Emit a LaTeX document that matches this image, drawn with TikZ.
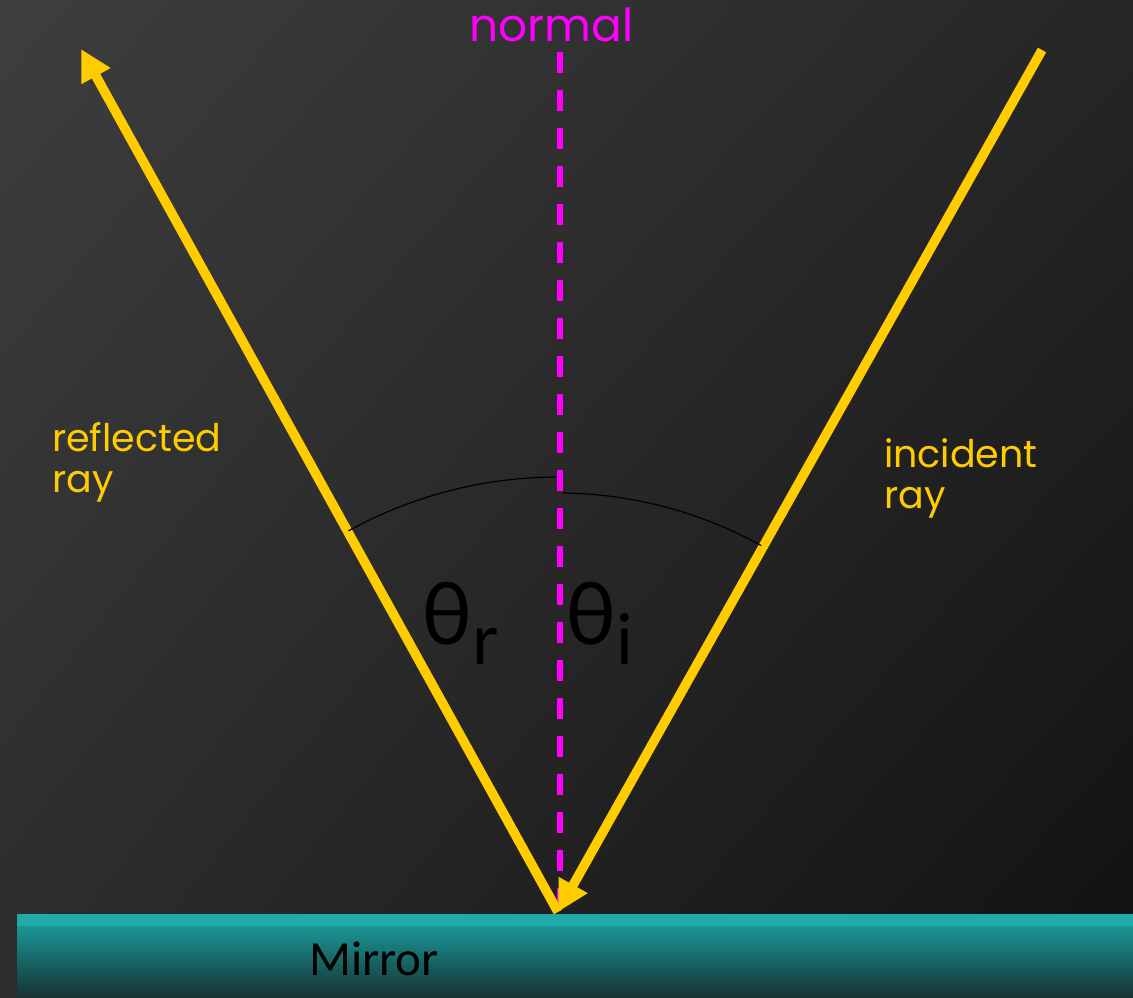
\documentclass[tikz,border=0pt]{standalone}
\usepackage{fontspec}
\setmainfont{Poppins}
\newfontfamily\thfont{Lato}
\newfontfamily\mirfont{Carlito}
\usetikzlibrary{arrows.meta,shadings}
\definecolor{rayyellow}{HTML}{FFCC00}
\definecolor{normmag}{HTML}{FF00FF}
\definecolor{mirtop}{HTML}{22AAAA}
\definecolor{mirmid}{HTML}{1A9696}
\definecolor{mirmid2}{HTML}{197C7C}
\definecolor{mirbot}{HTML}{173232}
\definecolor{bgul}{HTML}{3E3E3E}
\definecolor{bgur}{HTML}{262626}
\definecolor{bgll}{HTML}{2C2C2C}
\definecolor{bglr}{HTML}{111111}
\tikzset{
  ray/.style={draw=rayyellow, line width=9.5pt, -{Triangle[length=31pt,width=31pt]}},
  normalline/.style={draw=normmag, line width=5.5pt, dash pattern=on 21pt off 17pt},
  anglearc/.style={draw=black, line width=1.2pt},
  raylabel/.style={font=\fontsize{38}{41}\selectfont, text=rayyellow, inner sep=0pt, align=left},
  thetalabel/.style={font=\thfont\fontsize{86}{86}\selectfont, text=black, inner sep=0pt, anchor=base west},
}
\begin{document}
\begin{tikzpicture}[x=1pt,y=1pt]
\useasboundingbox (0,0) rectangle (1133,997);
% background
\shade[upper left=bgul, upper right=bgur, lower left=bgll, lower right=bglr] (0,0) rectangle (1133,997);
% key points
\coordinate (O) at (558,85);
\coordinate (Rtip) at (81,948);
\coordinate (Istart) at (1042,947);
\coordinate (Ntop) at (560,945);
\coordinate (Nbot) at (560,88);
% normal
\draw[normalline] (Ntop) -- (Nbot);
% rays
\draw[ray] (O) -- (Rtip);
\draw[ray] (Istart) -- (O);
% angle arcs
\draw[anglearc] (O) ++(118.8:435) arc[start angle=118.8, end angle=90.2, radius=435];
\draw[anglearc] (O) ++(89.3:419) arc[start angle=89.3, end angle=61.0, radius=419];
% mirror
\shade[top color=mirmid, middle color=mirmid2, bottom color=mirbot] (17,0) rectangle (1133,71);
\fill[mirtop] (17,71) rectangle (1133,83);
\node[font=\mirfont\fontsize{49}{49}\selectfont, text=black, inner sep=0pt, anchor=base west] (mirror) at (309,22) {Mirror};
% labels
\node[font=\fontsize{45.5}{45.5}\selectfont, text=normmag, inner sep=0pt, anchor=base west] (normal) at (469,955) {normal};
\node[raylabel, anchor=north west] (refl) at (52,575) {reflected\\ray};
\node[raylabel, anchor=north west] (inc) at (884,559) {incident\\ray};
\node[thetalabel] (thr) at (421,352) {θ\raisebox{-20pt}{\fontsize{70}{70}\selectfont r}};
\node[thetalabel] (thi) at (565,352) {θ\raisebox{-20pt}{\fontsize{70}{70}\selectfont i}};
\end{tikzpicture}
\end{document}
